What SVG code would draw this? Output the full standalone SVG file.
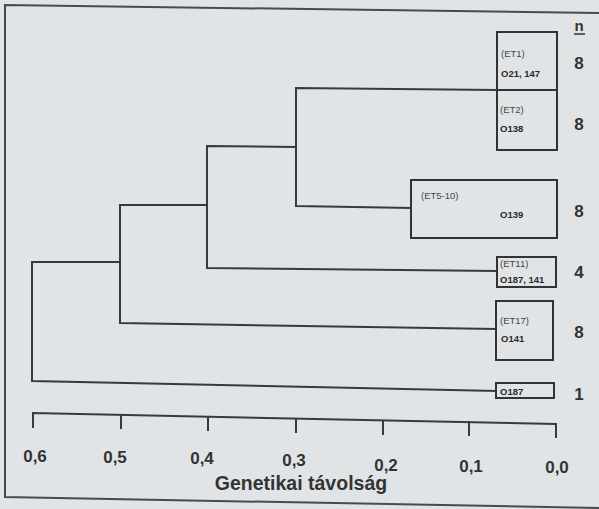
<svg xmlns="http://www.w3.org/2000/svg" width="599" height="509" viewBox="0 0 599 509">
  <style>
    .bg { fill: #e1e4e7; }
    .frame { fill: none; stroke: #4a4a4a; stroke-width: 2; }
    .box { fill: none; stroke: #333; stroke-width: 2; }
    .ln { fill: none; stroke: #3a3a3a; stroke-width: 2; stroke-linecap: square; }
    .et { font-family: "Liberation Sans", Arial, sans-serif; font-size: 9.5px; fill: #444; }
    .o { font-family: "Liberation Sans", Arial, sans-serif; font-size: 9.5px; font-weight: bold; fill: #2a2a2a; }
    .n { font-family: "Liberation Sans", Arial, sans-serif; font-size: 17px; font-weight: bold; fill: #333; text-anchor: middle; }
    .ax { font-family: "Liberation Sans", Arial, sans-serif; font-size: 17px; font-weight: bold; fill: #333; text-anchor: middle; }
    .title { font-family: "Liberation Sans", Arial, sans-serif; font-size: 19.5px; font-weight: bold; fill: #333; text-anchor: middle; }
  </style>
  <rect class="bg" x="0" y="0" width="599" height="509"/>
  <path class="frame" d="M599,13 L5,5 L5,497 L599,508"/>

  <g id="connectors">
    <path class="ln" d="M497,90 L296,88 L296,206 L411,208"/>
    <path class="ln" d="M296,147 L207,146 L207,268 L497,271"/>
    <path class="ln" d="M207,205 L120,205 L120,323 L496,329"/>
    <path class="ln" d="M120,262 L32,262 L32,381 L496,391"/>
  </g>

  <g id="n-header">
    <text class="n" x="579" y="31" style="font-size:15px">n</text>
    <line x1="574" y1="34" x2="585" y2="34" stroke="#333" stroke-width="1.5"/>
  </g>

  <g id="et1">
    <rect class="box" x="497" y="32" width="60" height="58"/>
    <text class="et" x="501" y="57">(ET1)</text>
    <text class="o" x="501" y="76.5">O21, 147</text>
    <text class="n" x="579" y="69">8</text>
  </g>
  <g id="et2">
    <rect class="box" x="497" y="90" width="60" height="60"/>
    <text class="et" x="500" y="113">(ET2)</text>
    <text class="o" x="500" y="131.5">O138</text>
    <text class="n" x="579" y="130">8</text>
  </g>
  <g id="et5-10">
    <rect class="box" x="411" y="180" width="146" height="58"/>
    <text class="et" x="421" y="198.5">(ET5-10)</text>
    <text class="o" x="500" y="217.5">O139</text>
    <text class="n" x="579" y="217">8</text>
  </g>
  <g id="et11">
    <rect class="box" x="497" y="257" width="59" height="30"/>
    <text class="et" x="500" y="267">(ET11)</text>
    <text class="o" x="500" y="283">O187, 141</text>
    <text class="n" x="579" y="278">4</text>
  </g>
  <g id="et17">
    <rect class="box" x="496" y="301" width="57" height="59"/>
    <text class="et" x="500" y="324">(ET17)</text>
    <text class="o" x="501" y="341.5">O141</text>
    <text class="n" x="579" y="338">8</text>
  </g>
  <g id="o187">
    <rect class="box" x="496" y="383" width="58" height="15"/>
    <text class="o" x="500" y="395">O187</text>
    <text class="n" x="579" y="400">1</text>
  </g>

  <g id="axis">
    <path class="ln" d="M33,427 L33,413 L556,424 L556,437"/>
    <line class="ln" x1="121" y1="415" x2="121" y2="428"/>
    <line class="ln" x1="208" y1="417" x2="208" y2="430"/>
    <line class="ln" x1="296" y1="419" x2="296" y2="432"/>
    <line class="ln" x1="383" y1="421" x2="383" y2="434"/>
    <line class="ln" x1="469" y1="422" x2="469" y2="435"/>
    <text class="ax" x="35" y="462">0,6</text>
    <text class="ax" x="115" y="463">0,5</text>
    <text class="ax" x="202" y="464">0,4</text>
    <text class="ax" x="294" y="466">0,3</text>
    <text class="ax" x="386" y="471">0,2</text>
    <text class="ax" x="471" y="472">0,1</text>
    <text class="ax" x="557" y="473">0,0</text>
    <text class="title" x="301" y="490">Genetikai távolság</text>
  </g>
</svg>
